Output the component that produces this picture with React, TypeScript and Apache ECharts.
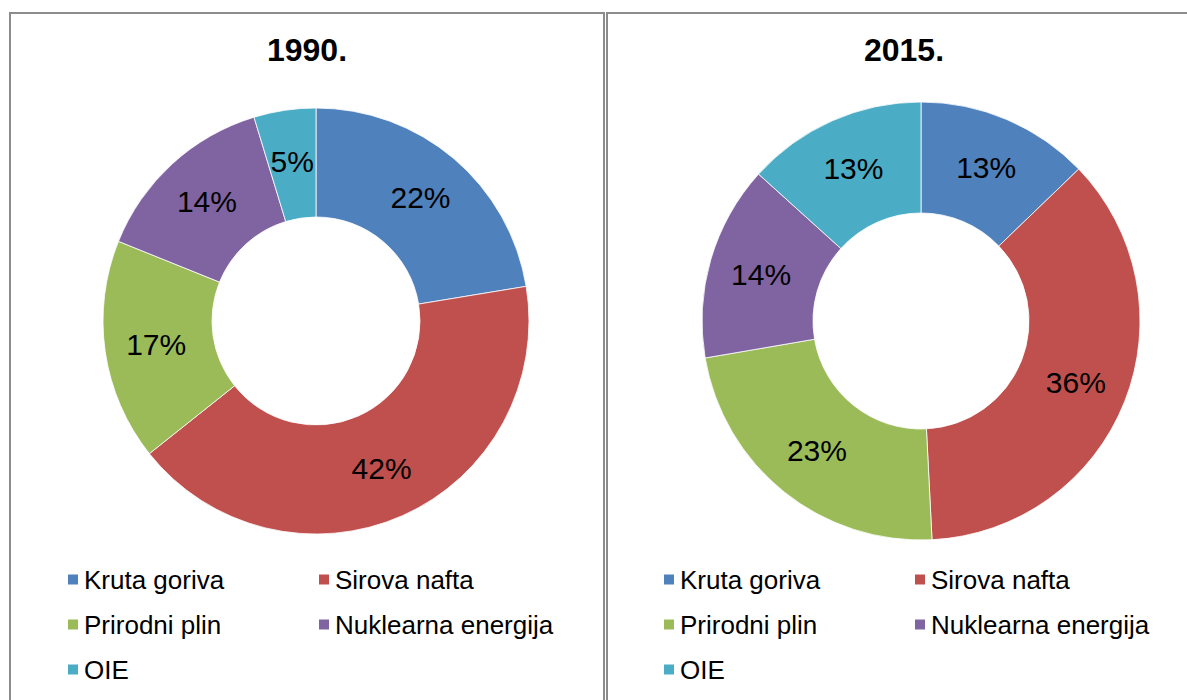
import React, { useEffect, useRef } from "react";
import * as echarts from "echarts";

const categories = ["Kruta goriva", "Sirova nafta", "Prirodni plin", "Nuklearna energija", "OIE"];
const values1990 = [22.4, 41.9, 16.8, 14.2, 4.7];
const values2015 = [12.8, 36.4, 23.1, 14.4, 13.3];
const titles = ["1990.", "2015."];
const colors = ["#4F81BD", "#C0504D", "#9BBB59", "#8064A2", "#4BACC6"];

const FONT = "'Liberation Sans', Arial, sans-serif";

export default function App() {
  const ref = useRef<HTMLDivElement>(null);
  useEffect(() => {
    document.body.style.margin = "0";
    const chart = echarts.init(ref.current!, null, { renderer: "svg" });
    const mkData = (vals: number[]) =>
      categories.map((name, i) => ({ name, value: vals[i], itemStyle: { color: colors[i] } }));
    const pie = (vals: number[], center: number[], radius: number[]) => ({
      type: "pie",
      center,
      radius,
      startAngle: 90,
      clockwise: true,
      avoidLabelOverlap: false,
      itemStyle: { borderColor: "#ffffff", borderWidth: 0.8 },
      label: {
        show: true,
        position: "inside",
        formatter: (p: any) => Math.round(p.value) + "%",
        color: "#000",
        fontSize: 30,
        fontFamily: FONT,
      },
      labelLine: { show: false },
      emphasis: { disabled: true },
      data: mkData(vals),
    });
    const legend = (left: number, textW: number) => ({
      left,
      top: 562,
      padding: 0,
      orient: "horizontal",
      width: 2 * (12 + 5 + textW) + 10 + 5,
      itemWidth: 12,
      itemHeight: 12,
      itemGap: 10,
      icon: "rect",
      selectedMode: false,
      data: categories,
      textStyle: {
        fontSize: 26,
        fontFamily: FONT,
        color: "#000",
        width: textW,
        lineHeight: 35,
      },
    });
    const titleStyle = { fontSize: 32, fontWeight: "bold", fontFamily: FONT, color: "#000" };
    chart.setOption({
      animation: false,
      backgroundColor: "#ffffff",
      title: [
        { text: titles[0], left: 307, top: 34, textAlign: "center", padding: 0, textStyle: titleStyle },
        { text: titles[1], left: 904, top: 34, textAlign: "center", padding: 0, textStyle: titleStyle },
      ],
      legend: [legend(66, 223), legend(662, 223)],
      graphic: [
        {
          type: "rect",
          shape: { x: 10, y: 13, width: 594, height: 700 },
          style: { fill: "none", stroke: "#8c8c8c", lineWidth: 2 },
          silent: true,
        },
        {
          type: "rect",
          shape: { x: 607, y: 13, width: 600, height: 700 },
          style: { fill: "none", stroke: "#8c8c8c", lineWidth: 2 },
          silent: true,
        },
      ],
      series: [pie(values1990, [316, 321], [104, 213]), pie(values2015, [921, 321], [108, 219])],
    });
    return () => chart.dispose();
  }, []);
  return (
    <div
      ref={ref}
      style={{ position: "fixed", left: 0, top: 0, width: 1187, height: 700, background: "#fff" }}
    />
  );
}
